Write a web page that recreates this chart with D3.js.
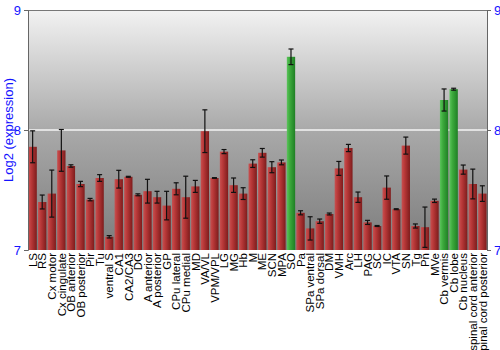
<!DOCTYPE html>
<html>
<head>
<meta charset="utf-8">
<script src="https://cdn.jsdelivr.net/npm/d3@7"></script>
<style>
  body { margin: 0; background: #fff; }
  text { font-family: "Liberation Sans", Arial, sans-serif; }
</style>
</head>
<body>
<div id="chart"></div>
<script>
var regions = ["LS", "RS", "Cx motor", "Cx cingulate", "OB anterior", "OB posterior", "Pir", "Tu",
    "ventral S", "CA1", "CA2/CA3", "DG", "A anterior", "A posterior", "GP", "CPu lateral", "CPu medial",
    "MD", "VA/VL", "VPM/VPL", "LG", "MG", "Hb", "M", "ME", "SCN", "MPA", "SO", "Pa", "SPa ventral",
    "SPa dorsal", "DM", "VMH", "Arc", "LH", "PAG", "SC", "IC", "VTA", "SN", "Tg", "Pn", "MVe",
    "Cb vermis", "Cb lobe", "Cb nucleus", "spinal cord anterior", "spinal cord posterior"];

var expression = [7.86, 7.40, 7.47, 7.83, 7.70, 7.55, 7.42, 7.60,
    7.11, 7.59, 7.61, 7.46, 7.49, 7.44, 7.37, 7.51, 7.44,
    7.53, 7.99, 7.60, 7.82, 7.54, 7.47, 7.72, 7.81, 7.69, 7.73, 8.61, 7.31, 7.18,
    7.24, 7.30, 7.68, 7.85, 7.44, 7.23, 7.20, 7.52, 7.34, 7.87, 7.20, 7.19, 7.41,
    8.25, 8.34, 7.67, 7.55, 7.47];

var errors = [0.133, 0.058, 0.196, 0.174, 0.01, 0.022, 0.01, 0.028,
    0.01, 0.074, 0.004, 0.008, 0.099, 0.049, 0.119, 0.05, 0.175,
    0.05, 0.178, 0.003, 0.017, 0.06, 0.049, 0.032, 0.036, 0.046, 0.02, 0.065, 0.017, 0.097,
    0.018, 0.008, 0.058, 0.03, 0.043, 0.017, 0.004, 0.097, 0.004, 0.071, 0.017, 0.168, 0.014,
    0.092, 0.008, 0.038, 0.124, 0.065];

var highlighted = ["SO", "Cb vermis", "Cb lobe"];

var yTicks = [7, 8, 9];

var width = 500,
    height = 350,
    margin = { top: 10, right: 13, bottom: 100, left: 28 };

var svg = d3.select("#chart")
    .append("svg")
    .attr("width", width)
    .attr("height", height);

var innerW = width - margin.left - margin.right,
    innerH = height - margin.top - margin.bottom;

var defs = svg.append("defs");

var bg = defs.append("linearGradient")
    .attr("id", "bg")
    .attr("x1", 0).attr("y1", 0).attr("x2", 0).attr("y2", 1);
bg.append("stop").attr("offset", "0%").attr("stop-color", "#f2f2f2");
bg.append("stop").attr("offset", "50%").attr("stop-color", "#a9a9a9");
bg.append("stop").attr("offset", "100%").attr("stop-color", "#7c7c7c");

function barGradient(id, light, mid, dark) {
    var g = defs.append("linearGradient")
        .attr("id", id)
        .attr("x1", 0).attr("y1", 0).attr("x2", 1).attr("y2", 0);
    g.append("stop").attr("offset", "0%").attr("stop-color", light);
    g.append("stop").attr("offset", "35%").attr("stop-color", mid);
    g.append("stop").attr("offset", "100%").attr("stop-color", dark);
}
barGradient("red", "#c85050", "#b83838", "#7e1c1c");
barGradient("green", "#5cc45c", "#3caa3c", "#1f7f24");

var g = svg.append("g")
    .attr("transform", "translate(" + margin.left + "," + margin.top + ")");

var x = d3.scaleBand()
    .domain(regions)
    .range([0, innerW])
    .paddingInner(0.13)
    .paddingOuter(0.05);

var y = d3.scaleLinear()
    .domain([7, 9])
    .range([innerH, 0]);

g.append("rect")
    .attr("width", innerW)
    .attr("height", innerH)
    .attr("fill", "url(#bg)");

// grid line at 8
g.selectAll(".grid")
    .data(yTicks.filter(function (d) { return d > 7 && d < 9; }))
    .enter().append("line")
    .attr("x1", 0).attr("x2", innerW)
    .attr("y1", function (d) { return y(d); })
    .attr("y2", function (d) { return y(d); })
    .attr("stroke", "#f4f4f4")
    .attr("stroke-width", 1.5);

var data = regions.map(function (r, i) {
    return { name: r, value: expression[i], err: errors[i] };
});

g.selectAll(".bar")
    .data(data)
    .enter().append("rect")
    .attr("class", "bar")
    .attr("x", function (d) { return x(d.name); })
    .attr("y", function (d) { return y(d.value); })
    .attr("width", x.bandwidth())
    .attr("height", function (d) { return innerH - y(d.value); })
    .attr("fill", function (d) {
        return highlighted.indexOf(d.name) >= 0 ? "url(#green)" : "url(#red)";
    });

var eb = g.selectAll(".err")
    .data(data)
    .enter().append("g")
    .attr("class", "err")
    .attr("stroke", "#111")
    .attr("stroke-width", 1.2);

eb.append("line")
    .attr("x1", function (d) { return x(d.name) + x.bandwidth() / 2; })
    .attr("x2", function (d) { return x(d.name) + x.bandwidth() / 2; })
    .attr("y1", function (d) { return y(d.value + d.err); })
    .attr("y2", function (d) { return y(d.value - d.err); });

eb.selectAll(".cap")
    .data(function (d) { return [d.value + d.err, d.value - d.err].map(function (v) { return { name: d.name, v: v }; }); })
    .enter().append("line")
    .attr("x1", function (d) { return x(d.name) + x.bandwidth() / 2 - 2.5; })
    .attr("x2", function (d) { return x(d.name) + x.bandwidth() / 2 + 2.5; })
    .attr("y1", function (d) { return y(d.v); })
    .attr("y2", function (d) { return y(d.v); });

// frame
g.append("line").attr("x1", 0).attr("x2", innerW).attr("y1", 0.5).attr("y2", 0.5)
    .attr("stroke", "#777").attr("stroke-width", 1);

var yLeft = g.append("g")
    .call(d3.axisLeft(y).tickValues(yTicks).tickSize(4).tickFormat(d3.format("d")));
var yRight = g.append("g")
    .attr("transform", "translate(" + innerW + ",0)")
    .call(d3.axisRight(y).tickValues(yTicks).tickSize(4).tickFormat(d3.format("d")));

[yLeft, yRight].forEach(function (a) {
    a.select(".domain").attr("stroke", "#666");
    a.selectAll(".tick line").attr("stroke", "#666");
    a.selectAll(".tick text")
        .attr("fill", "#1414ff")
        .style("font-size", "13px")
        .style("font-family", "Liberation Sans, Arial, sans-serif");
});

svg.append("text")
    .attr("transform", "translate(13," + (margin.top + innerH / 2) + ") rotate(-90)")
    .attr("text-anchor", "middle")
    .attr("fill", "#1414ff")
    .style("font-size", "13px")
    .text("Log2 (expression)");

g.selectAll(".xlabel")
    .data(regions)
    .enter().append("text")
    .attr("class", "xlabel")
    .attr("transform", function (d) {
        return "translate(" + (x(d) + x.bandwidth() / 2 + 4.2) + "," + (innerH + 3) + ") rotate(-90)";
    })
    .attr("text-anchor", "end")
    .attr("fill", "#000")
    .style("font-size", "11.5px")
    .text(function (d) { return d; });
</script>
</body>
</html>
